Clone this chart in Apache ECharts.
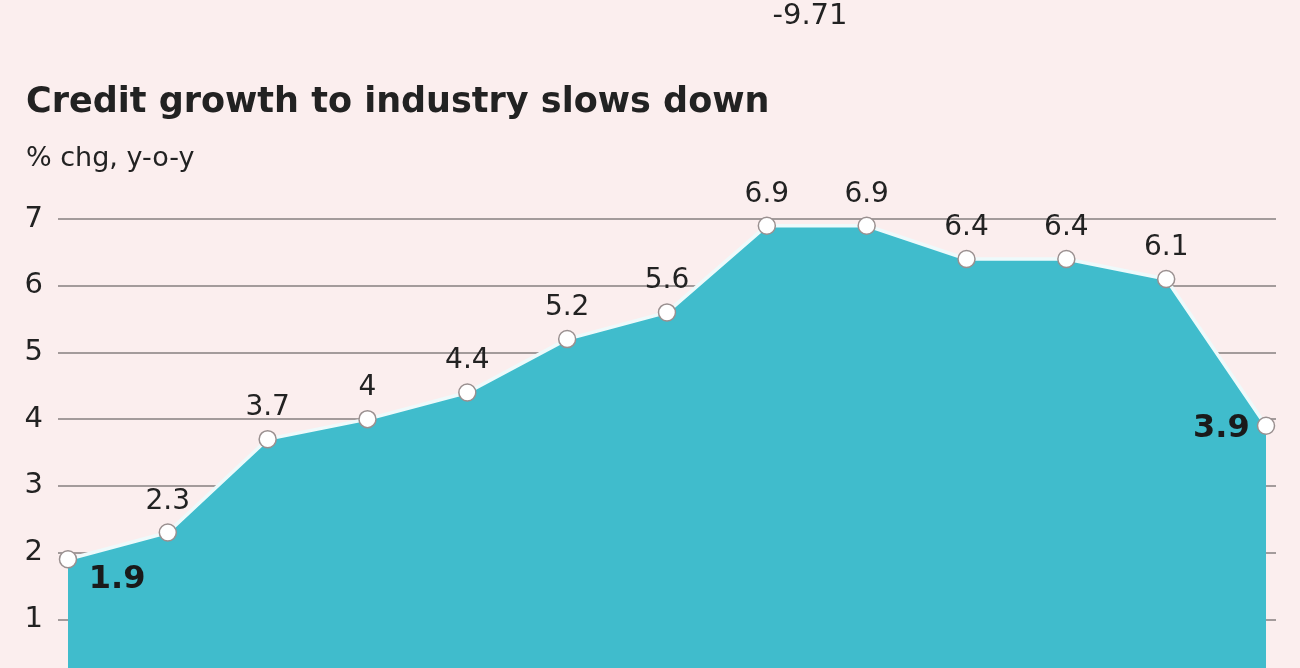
<!DOCTYPE html>
<html>
<head>
<meta charset="utf-8">
<script src="https://cdn.jsdelivr.net/npm/echarts@6/dist/echarts.min.js"></script>
<style>
html,body{margin:0;padding:0;background:#fbeeee;overflow:hidden;width:1300px;height:668px;}
#c{width:1300px;height:690px;}
</style>
</head>
<body>
<div id="c"></div>
<script>
const titleText = 'Credit growth to industry slows down';
const subtitleText = '% chg, y-o-y';
const strayLabel = '-9.71';
const values = [1.9, 2.3, 3.7, 4, 4.4, 5.2, 5.6, 6.9, 6.9, 6.4, 6.4, 6.1, 3.9];
const yTicks = [1, 2, 3, 4, 5, 6, 7];

const FONT = '"DejaVu Sans"';
const dark = '#222222';

const seriesData = values.map((v, i) => {
  const d = { value: [i, v] };
  if (i === 0) {
    d.label = { position: [30, 14], align: 'left', verticalAlign: 'top', fontWeight: 'bold', fontSize: 32, color: '#1a1a1a' };
  } else if (i === values.length - 1) {
    d.label = { position: 'left', distance: 7, offset: [0, 3], fontWeight: 'bold', fontSize: 32, color: '#1a1a1a' };
  }
  return d;
});

const chart = echarts.init(document.getElementById('c'));
chart.setOption({
  backgroundColor: '#fbeeee',
  animation: false,
  title: [
    { text: strayLabel, left: 805, top: -3, textAlign: 'center',
      textStyle: { fontFamily: FONT, fontSize: 29, fontWeight: 'normal', color: dark } },
    { text: titleText, left: 21, top: 80,
      textStyle: { fontFamily: FONT, fontSize: 35, fontWeight: 'bold', color: dark } },
    { text: subtitleText, left: 21, top: 140,
      textStyle: { fontFamily: FONT, fontSize: 27, fontWeight: 'normal', color: dark } }
  ],
  grid: { left: 58, right: 24, top: 219, height: 467 },
  xAxis: { type: 'value', min: -0.1, max: 12.1, show: false },
  yAxis: {
    type: 'value', min: 0, max: 7, interval: 1,
    axisLine: { show: false }, axisTick: { show: false },
    axisLabel: {
      margin: 15, fontFamily: FONT, fontSize: 29, color: dark,
      formatter: v => (yTicks.indexOf(v) >= 0 ? String(v) : '')
    },
    splitLine: { lineStyle: { color: '#a39b9b', width: 2 } }
  },
  series: [{
    type: 'line',
    data: seriesData,
    symbol: 'circle',
    symbolSize: 17,
    itemStyle: { color: '#ffffff', borderColor: '#9a9090', borderWidth: 1.5 },
    lineStyle: { color: '#eefafb', width: 3.5 },
    areaStyle: { color: '#40bccc', opacity: 1 },
    label: {
      show: true, position: 'top', distance: 8,
      fontFamily: FONT, fontSize: 28, color: dark,
      formatter: p => String(p.value[1])
    },
    z: 3
  }]
});
</script>
</body>
</html>
